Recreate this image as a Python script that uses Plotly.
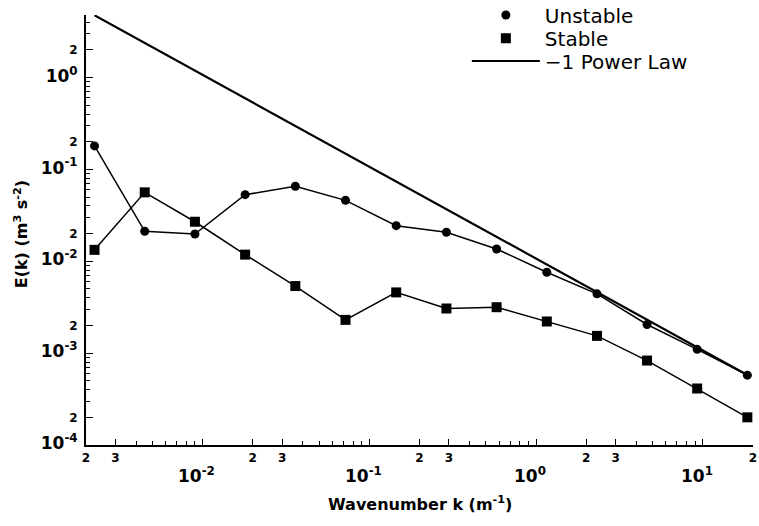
import math
import plotly.graph_objects as go

# ---- data ----
wavenumber = [0.00225, 0.0045, 0.009, 0.018, 0.036, 0.072, 0.145, 0.29,
              0.58, 1.16, 2.32, 4.63, 9.25, 18.5]
unstable = [0.180, 0.0212, 0.0198, 0.053, 0.0654, 0.046, 0.0244, 0.0207,
            0.0136, 0.00758, 0.00442, 0.00205, 0.00110, 0.000576]
stable = [0.0133, 0.0562, 0.0269, 0.0118, 0.00537, 0.0023, 0.00458, 0.00306,
          0.00316, 0.00221, 0.00154, 0.00083, 0.000412, 0.000200]
powerlaw_k = [0.00225, 18.5]
powerlaw_e = [4.75, 0.000578]

x_tick_vals = [0.002, 0.003, 0.01, 0.02, 0.03, 0.1, 0.2, 0.3, 1, 2, 3, 10, 20]
x_tick_text = ["2", "3", " ", "2", "3", " ", "2", "3", " ", "2", "3", " ", "2"]
x_major_vals = [0.01, 0.1, 1, 10]
x_major_text = ["10<sup>-2</sup>", "10<sup>-1</sup>", "10<sup>0</sup>", "10<sup>1</sup>"]
y_tick_vals = [1e-4, 2e-4, 1e-3, 2e-3, 1e-2, 2e-2, 1e-1, 2e-1, 1, 2]
y_tick_text = ["10<sup>-4</sup>", "2", "10<sup>-3</sup>", "2", "10<sup>-2</sup>", "2",
               "10<sup>-1</sup>", "2", "10<sup>0</sup>", "2"]

BIG = 17
SMALL = 12


def fmt_y(t):
    if t.startswith("10"):
        return '<span style="font-size:%dpx">%s</span>' % (BIG, t)
    return t


x_minor = [m * 10 ** e for e in range(-3, 2) for m in range(4, 10)
           if 0.002 <= m * 10 ** e <= 20]
y_minor = [m * 10 ** e for e in range(-4, 1) for m in range(3, 10)
           if m * 10 ** e <= 4.7]

fig = go.Figure()
line_style = dict(color="black", width=1.5)

fig.add_trace(go.Scatter(x=powerlaw_k, y=powerlaw_e, mode="lines",
                         line=dict(color="black", width=2.2),
                         name="\u22121 Power Law", legend="legend3",
                         cliponaxis=False))
fig.add_trace(go.Scatter(x=wavenumber, y=unstable, mode="lines",
                         line=line_style, showlegend=False))
fig.add_trace(go.Scatter(x=wavenumber, y=stable, mode="lines",
                         line=line_style, showlegend=False))
fig.add_trace(go.Scatter(x=wavenumber, y=unstable, mode="markers",
                         marker=dict(symbol="circle", size=9, color="black"),
                         name="Unstable", legend="legend"))
fig.add_trace(go.Scatter(x=wavenumber, y=stable, mode="markers",
                         marker=dict(symbol="square", size=10, color="black"),
                         name="Stable", legend="legend2"))

tick_font = dict(family="DejaVu Sans", size=SMALL, color="black", weight="bold")

fig.update_xaxes(type="log", range=[math.log10(0.002), math.log10(20)],
                 showline=True, linecolor="black", linewidth=2,
                 showgrid=False, zeroline=False,
                 ticks="inside", ticklen=6, tickwidth=1, tickcolor="black",
                 tickmode="array", tickvals=x_tick_vals, ticktext=x_tick_text,
                 tickfont=tick_font, ticklabelstandoff=1,
                 minor=dict(ticks="inside", ticklen=4, tickwidth=1,
                            tickcolor="black", tickmode="array",
                            tickvals=x_minor, showgrid=False))
fig.update_yaxes(type="log", range=[-4, 0.68],
                 showline=True, linecolor="black", linewidth=2,
                 showgrid=False, zeroline=False,
                 ticks="inside", ticklen=7, tickwidth=1, tickcolor="black",
                 tickmode="array", tickvals=y_tick_vals,
                 ticktext=[fmt_y(t) for t in y_tick_text],
                 tickfont=tick_font, ticklabelstandoff=4,
                 minor=dict(ticks="inside", ticklen=4, tickwidth=1,
                            tickcolor="black", tickmode="array",
                            tickvals=y_minor, showgrid=False))

annotations = []
for v, t in zip(x_major_vals, x_major_text):
    annotations.append(dict(x=math.log10(v), y=-0.07, xref="x", yref="paper",
                            text=t, showarrow=False, xshift=-6,
                            xanchor="center", yanchor="middle",
                            font=dict(family="DejaVu Sans", size=BIG,
                                      color="black", weight="bold")))
annotations.append(dict(x=0.5, y=-0.1355, xref="paper", yref="paper",
                        text="Wavenumber k (m<sup>-1</sup>)", showarrow=False,
                        xanchor="center", yanchor="middle",
                        font=dict(family="DejaVu Sans", size=16,
                                  color="black", weight="bold")))
annotations.append(dict(x=-0.0975, y=0.49, xref="paper", yref="paper",
                        text="E(k) (m<sup>3</sup> s<sup>-2</sup>)",
                        showarrow=False, textangle=-90,
                        xanchor="center", yanchor="middle",
                        font=dict(family="DejaVu Sans", size=16,
                                  color="black", weight="bold")))

legend_common = dict(xanchor="left", yanchor="middle",
                     bgcolor="rgba(0,0,0,0)", itemwidth=68,
                     font=dict(family="DejaVu Sans", size=20, color="black"))

fig.update_layout(
    width=759, height=526,
    margin=dict(l=86, r=6, t=15, b=81, autoexpand=False),
    plot_bgcolor="white", paper_bgcolor="white",
    annotations=annotations,
    showlegend=True,
    legend=dict(x=0.571, y=1.0, **legend_common),
    legend2=dict(x=0.571, y=0.946, **legend_common),
    legend3=dict(x=0.571, y=0.893, **legend_common),
)

fig.write_html("out.html")
